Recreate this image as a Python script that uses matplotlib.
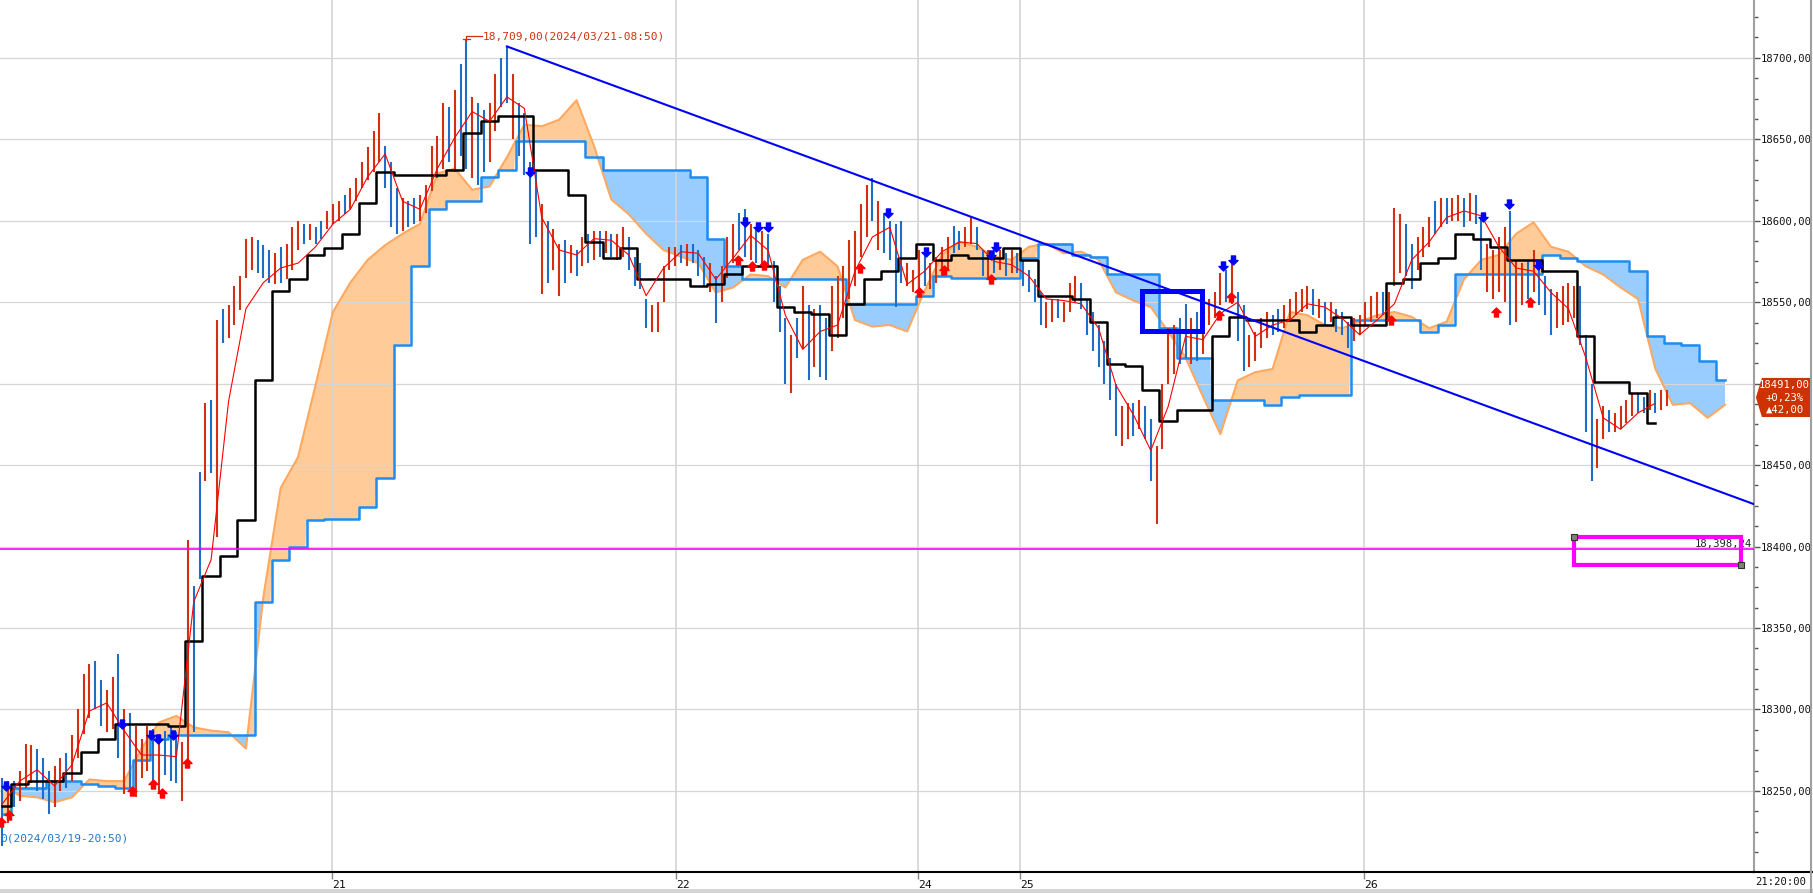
import numpy as np
import matplotlib
matplotlib.use("Agg")
import matplotlib.pyplot as plt
import matplotlib.transforms as mtransforms
from matplotlib import font_manager
from matplotlib.lines import Line2D
from matplotlib.patches import Polygon, Rectangle
from matplotlib.path import Path
from matplotlib.ticker import MultipleLocator

# 10-minute bars, x = bar index
bar_low = [
    18216, 18230, 18240, 18244, 18252, 18255, 18250, 18245, 18236, 18240,
    18250, 18252, 18256, 18270, 18285, 18295, 18300, 18290, 18286, 18288,
    18270, 18248, 18252, 18246, 18258, 18262, 18252, 18248, 18260, 18256,
    18255, 18244, 18269, 18286, 18380, 18440, 18445, 18406, 18525, 18528,
    18536, 18545, 18565, 18570, 18568, 18565, 18562, 18561, 18562, 18564,
    18570, 18582, 18586, 18588, 18586, 18589, 18595, 18598, 18600, 18604,
    18607, 18612, 18620, 18625, 18630, 18636, 18620, 18596, 18592, 18594,
    18596, 18598, 18600, 18605, 18618, 18626, 18632, 18636, 18630, 18640,
    18632, 18626, 18622, 18630, 18636, 18655, 18670, 18672, 18650, 18640,
    18628, 18586, 18590, 18555, 18562, 18570, 18554, 18562, 18568, 18566,
    18572, 18574, 18576, 18578, 18580, 18578, 18576, 18578, 18570, 18560,
    18558, 18534, 18532, 18532, 18550, 18570, 18572, 18574, 18572, 18574,
    18566, 18560, 18556, 18537, 18550, 18565, 18574, 18582, 18578, 18576,
    18574, 18572, 18572, 18550, 18532, 18500, 18494, 18516, 18522, 18502,
    18510, 18504, 18502, 18520, 18528, 18540, 18552, 18560, 18578, 18590,
    18600, 18582, 18580, 18576, 18547, 18562, 18560, 18556, 18558, 18560,
    18558, 18562, 18566, 18570, 18580, 18582, 18584, 18586, 18582, 18566,
    18564, 18568, 18570, 18566, 18568, 18568, 18560, 18556, 18550, 18536,
    18534, 18538, 18540, 18538, 18544, 18550, 18546, 18530, 18520, 18510,
    18500, 18490, 18468, 18462, 18466, 18468, 18472, 18466, 18440, 18414,
    18460, 18500, 18506, 18512, 18516, 18512, 18514, 18518, 18536, 18540,
    18548, 18550, 18549, 18526, 18508, 18510, 18514, 18522, 18528, 18530,
    18532, 18534, 18538, 18542, 18544, 18546, 18542, 18540, 18536, 18538,
    18532, 18530, 18522, 18526, 18530, 18536, 18538, 18540, 18542, 18540,
    18560, 18568, 18566, 18558, 18570, 18578, 18584, 18592, 18596, 18598,
    18600, 18600, 18596, 18600, 18598, 18570, 18556, 18552, 18556, 18550,
    18536, 18538, 18548, 18552, 18556, 18548, 18542, 18530, 18534, 18536,
    18538, 18540, 18524, 18470, 18440, 18448, 18466, 18470, 18470, 18472,
    18476, 18480, 18482, 18482, 18484, 18482, 18484, 18486,
]
bar_high = [
    18258, 18256, 18256, 18262, 18279, 18278, 18276, 18270, 18262, 18265,
    18270, 18273, 18284, 18300, 18322, 18328, 18330, 18318, 18312, 18320,
    18334, 18300, 18298, 18290, 18282, 18290, 18288, 18285, 18287, 18290,
    18286, 18280, 18404, 18376, 18446, 18488, 18490, 18539, 18546, 18548,
    18560, 18566, 18589, 18590, 18588, 18585, 18582, 18580, 18584, 18586,
    18596, 18600, 18598, 18598, 18596, 18600, 18606, 18610, 18612, 18616,
    18620, 18626, 18636, 18645, 18655, 18666, 18646, 18636, 18620, 18614,
    18612, 18614, 18616, 18622, 18646, 18652, 18672, 18670, 18680, 18696,
    18711, 18676, 18672, 18668, 18672, 18690, 18700, 18707, 18690, 18672,
    18666, 18636, 18630, 18610, 18600, 18595, 18586, 18588, 18585, 18582,
    18590, 18592, 18594, 18594, 18594, 18592, 18592, 18596, 18590, 18578,
    18574, 18552, 18548, 18550, 18572, 18584, 18584, 18585, 18586, 18586,
    18582, 18578, 18574, 18566, 18572, 18590, 18598, 18605, 18607, 18598,
    18596, 18594, 18592, 18575, 18560, 18540, 18530, 18540, 18560, 18548,
    18546, 18548, 18540, 18560, 18566, 18572, 18588, 18594, 18610, 18622,
    18626, 18612, 18604, 18600, 18598, 18600, 18574, 18570, 18582, 18580,
    18574, 18578, 18584, 18590, 18597, 18594, 18596, 18602, 18596, 18582,
    18582, 18584, 18582, 18580, 18582, 18580, 18576, 18570, 18564, 18556,
    18550, 18552, 18552, 18550, 18562, 18566, 18562, 18552, 18544, 18536,
    18526, 18516, 18500, 18486, 18488, 18488, 18490, 18486, 18478, 18462,
    18500, 18534, 18536, 18540, 18549, 18540, 18544, 18538, 18552, 18556,
    18568, 18570, 18574, 18556, 18548, 18530, 18532, 18540, 18544, 18542,
    18546, 18548, 18552, 18556, 18558, 18560, 18558, 18552, 18550, 18550,
    18546, 18544, 18538, 18540, 18542, 18550, 18554, 18556, 18556, 18556,
    18608, 18604, 18598, 18586, 18590, 18596, 18602, 18612, 18614, 18614,
    18614, 18616, 18614, 18617, 18616, 18602, 18586, 18582, 18590, 18596,
    18606, 18576, 18574, 18576, 18582, 18572, 18566, 18558, 18556, 18560,
    18562, 18560, 18560, 18530, 18500, 18478, 18486, 18484, 18482, 18486,
    18490, 18494, 18494, 18492, 18496, 18494, 18496, 18496,
]
# u = up bar (red), d = down bar (blue)
bar_dir = (
    "duduuudddu" "uduuuudduu" "duduuududd" "duuddududu" "uuuudddudu"
    "uududduuud" "uuuuuudddu" "dduuuuudud" "dudduuddud" "ddduduudud"
    "udududuudd" "dduuuuudud" "dduduuuddu" "duddddudud" "udduuuuuuu"
    "dudddduuud" "uuuudduudd" "udududdddd" "uuduuudddd" "ddduududdu"
    "uuudduduuu" "ududduuuud" "duuuuududu" "ddduuuuudu" "uudduuudud"
    "uududduuuu" "duududdduu" "uuddduuduu" "uudduduu"
)

# ichimoku lines, sampled every 3 bars
line_x = list(range(0, 298, 3))
tenkan = [
    18242, 18256, 18263, 18253, 18266, 18299, 18304, 18287, 18272, 18272,
    18271, 18366, 18392, 18489, 18546, 18562, 18571, 18574, 18584, 18598,
    18607, 18627, 18641, 18612, 18607, 18632, 18651, 18667, 18661, 18676,
    18669, 18602, 18582, 18579, 18589, 18588, 18579, 18554, 18571, 18581,
    18580, 18564, 18577, 18591, 18582, 18542, 18521, 18532, 18536, 18569,
    18590, 18596, 18561, 18569, 18581, 18587, 18586, 18575, 18573, 18566,
    18552, 18551, 18549, 18534, 18499, 18481, 18459, 18486, 18529, 18527,
    18543, 18550, 18529, 18536, 18539, 18549, 18547, 18540, 18530, 18539,
    18549, 18576, 18587, 18602, 18606, 18603, 18584, 18571, 18569, 18556,
    18546, 18516, 18479, 18472, 18482, 18488,
]
kijun = [
    18241, 18254, 18256, 18256, 18261, 18274, 18282, 18291, 18291, 18291,
    18290, 18342, 18382, 18394, 18416, 18502, 18557, 18564, 18579, 18583,
    18592, 18611, 18630, 18628, 18628, 18628, 18631, 18654, 18661, 18664,
    18664, 18631, 18631, 18616, 18587, 18577, 18583, 18564, 18564, 18564,
    18560, 18561, 18567, 18572, 18572, 18547, 18544, 18543, 18530, 18549,
    18564, 18569, 18577, 18586, 18576, 18579, 18577, 18577, 18583, 18576,
    18554, 18554, 18552, 18538, 18512, 18511, 18496, 18477, 18484, 18484,
    18529, 18541, 18539, 18539, 18539, 18532, 18536, 18541, 18536, 18536,
    18562, 18564, 18574, 18577, 18592, 18589, 18584, 18576, 18576, 18569,
    18569, 18529, 18501, 18501, 18494, 18476,
]
span_a = [
    18254, 18247, 18246, 18243, 18246, 18257, 18256, 18256, 18276, 18292,
    18296, 18289, 18287, 18286, 18276, 18369, 18436, 18455, 18499, 18544,
    18562, 18576, 18585, 18592, 18598, 18629, 18632, 18619, 18621, 18639,
    18659, 18658, 18662, 18674, 18646, 18613, 18604, 18592, 18582, 18578,
    18574, 18556, 18559, 18567, 18566, 18559, 18576, 18581, 18572, 18539,
    18535, 18536, 18532, 18557, 18579, 18587, 18584, 18578, 18576, 18584,
    18586, 18580, 18581, 18576, 18556, 18551, 18547, 18532, 18516, 18492,
    18469, 18502, 18507, 18509, 18544, 18542, 18536, 18534, 18538, 18542,
    18544, 18541, 18534, 18538, 18564, 18576, 18579, 18592, 18599, 18584,
    18581, 18572, 18567, 18559, 18552, 18509, 18487, 18488, 18479, 18487,
]
span_b = [
    18236, 18252, 18252, 18256, 18256, 18254, 18253, 18252, 18269, 18282,
    18284, 18284, 18284, 18284, 18284, 18366, 18392, 18400, 18416, 18417,
    18417, 18424, 18442, 18524, 18572, 18607, 18612, 18612, 18627, 18631,
    18649, 18649, 18649, 18649, 18639, 18631, 18631, 18631, 18631, 18631,
    18627, 18589, 18572, 18564, 18564, 18564, 18564, 18564, 18564, 18549,
    18549, 18549, 18549, 18554, 18566, 18565, 18565, 18565, 18565, 18577,
    18586, 18586, 18579, 18578, 18567, 18567, 18567, 18534, 18516, 18516,
    18490, 18490, 18490, 18487, 18492, 18493, 18493, 18493, 18539, 18539,
    18539, 18539, 18532, 18536, 18567, 18567, 18567, 18567, 18567, 18579,
    18577, 18575, 18575, 18575, 18569, 18529, 18525, 18524, 18514, 18502,
]

# signal arrows
sell_x = [0.6, 20.6, 25.6, 26.8, 29.5, 91.0, 128.0, 130.3, 132.0, 152.7,
          159.3, 170.5, 171.4, 210.5, 212.2, 255.3, 259.7, 264.8]
sell_y = [18253, 18291, 18284, 18282, 18284, 18630, 18599, 18596, 18596, 18605,
          18581, 18579, 18584, 18572, 18576, 18602, 18610, 18573]
buy_x = [-0.2, 1.2, 22.3, 26.0, 27.5, 31.8, 126.8, 129.3, 131.4, 147.8,
         158.1, 162.3, 170.5, 209.7, 211.9, 239.4, 257.5, 263.4]
buy_y = [18231, 18235, 18250, 18254, 18249, 18267, 18576, 18572, 18573, 18571,
         18556, 18570, 18564, 18542, 18553, 18539, 18544, 18550]

# drawings
trend_x = [87, 302]
trend_y = [18707, 18426]
support_level = 18398.24
last_price = 18491
max_bar, max_price = 80, 18709
min_label = "0(2024/03/19-20:50)"   # only the tail is visible at the left edge
max_label = "18,709,00(2024/03/21-08:50)"

day_pos = [56.9, 116.2, 157.9, 175.5, 234.8]
day_labels = ["21", "22", "24", "25", "26"]
price_ticks = list(range(18250, 18701, 50))

RED = "#D4300F"
BLUE = "#1E6EC8"

names = {f.name for f in font_manager.fontManager.ttflist}
NARROW = "Liberation Sans Narrow" if "Liberation Sans Narrow" in names else "DejaVu Sans Mono"
FS = 9 if NARROW == "Liberation Sans Narrow" else 7.6
plt.rcParams["font.family"] = [NARROW, "DejaVu Sans"]

W, H = 1813, 893
fig = plt.figure(figsize=(W / 100, H / 100), dpi=100)
ax = fig.add_axes([0, 21 / H, 1754 / W, 872 / H])

# cloud: span A drawn as a line, span B as a step line; fill on a fine grid
lx = np.array(line_x)
a = np.array(span_a)
b = np.array(span_b)
xf = np.arange(lx[0], lx[-1] + 0.01, 0.25)
af = np.interp(xf, lx, a)
bf = b[np.clip(np.round(xf / 3).astype(int), 0, len(b) - 1)]
ax.fill_between(xf, af, bf, where=af >= bf, interpolate=True, color="#FFCC99", lw=0, zorder=1)
ax.fill_between(xf, af, bf, where=af <= bf, interpolate=True, color="#99CCFF", lw=0, zorder=1)

# grid over the cloud
for p in price_ticks:
    ax.axhline(p, color="#D6D6D6", lw=0.9, zorder=1.5)
for d in day_pos:
    ax.axvline(d, color="#D4D4D4", lw=1.2, zorder=1.5)

ax.plot(lx, a, color="#FFA860", lw=1.5, zorder=2)
ax.plot(lx, b, color="#1E8CF0", lw=1.8, drawstyle="steps-mid", zorder=2)

# bars
x = np.arange(len(bar_low))
lo = np.array(bar_low)
hi = np.array(bar_high)
up = np.array([c == "u" for c in bar_dir])
ax.vlines(x[up], lo[up], hi[up], color=RED, lw=1.5, zorder=3)
ax.vlines(x[~up], lo[~up], hi[~up], color=BLUE, lw=1.5, zorder=3)

ax.plot(lx[:len(kijun)], kijun, color="black", lw=1.8, drawstyle="steps-mid", zorder=4)
ax.plot(lx[:len(tenkan)], tenkan, color="#FF0000", lw=0.8, zorder=5)

# signal arrows
up_arrow = Path([(0, 1), (1, 0), (0.45, 0), (0.45, -1), (-0.45, -1), (-0.45, 0), (-1, 0), (0, 1)],
                [Path.MOVETO] + [Path.LINETO] * 6 + [Path.CLOSEPOLY])
down_arrow = Path([(vx, -vy) for vx, vy in up_arrow.vertices], up_arrow.codes)
ax.plot(sell_x, sell_y, ls="none", marker=down_arrow, ms=6.5, color="#0000FF", zorder=6)
ax.plot(buy_x, buy_y, ls="none", marker=up_arrow, ms=6.5, color="#FF0000", zorder=6)

# support line + box
ax.axhline(support_level, color="#FF00FF", lw=1.2, zorder=4)
ax.text(301.7, support_level + 0.4, "18,398,24", ha="right", va="bottom",
        fontsize=FS, color="#222222", zorder=6)
ax.add_patch(Rectangle((271.0, 18388.6), 28.7, 17.2, fill=False, ec="#FF00FF", lw=3, zorder=7))
ax.plot([271.0, 299.7], [18405.8, 18388.6], ls="none", marker="s", ms=4,
        mfc="#808080", mec="#303030", mew=0.8, zorder=8)

# trendline + highlight box
ax.plot(trend_x, trend_y, color="#0000FF", lw=1.5, zorder=6)
ax.add_patch(Rectangle((196.5, 18532.3), 10.3, 24.5, fill=False, ec="#0000FF", lw=3.6, zorder=7))

# max / min labels
ax.plot([max_bar, max_bar, max_bar + 2.7], [max_price + 1.5, 18713.4, 18713.4], color="#D03010", lw=0.9, zorder=6)
ax.plot([max_bar - 0.6, max_bar + 0.6], [max_price + 2.5, max_price + 2.5], color="#D03010", lw=0.9, zorder=6)
ax.text(max_bar + 2.8, 18713.4, max_label, ha="left", va="center", fontsize=FS + 0.4, color="#D03010", zorder=6)
ax.text(-0.35, 18220.5, min_label, ha="left", va="center", fontsize=FS + 0.4, color="#1E78D2", zorder=6)

ax.set_xlim(-0.4, 302.0)
ax.set_ylim(18200.2, 18735.5)

ax.yaxis.tick_right()
ax.set_yticks(price_ticks)
ax.set_yticklabels([f"{p},00" for p in price_ticks])
ax.yaxis.set_minor_locator(MultipleLocator(12.5))
ax.tick_params(axis="y", which="major", direction="out", length=4, width=1, color="#555555",
               pad=1, labelsize=FS, labelcolor="#111111")
ax.tick_params(axis="y", which="minor", direction="out", length=3, width=1, color="#555555")
ax.set_xticks(day_pos)
ax.set_xticklabels(day_labels)
ax.tick_params(axis="x", direction="out", length=5, width=1, color="#888888", pad=1,
               labelsize=FS + 0.6, labelcolor="#111111")
for lab in ax.get_xticklabels():
    lab.set_horizontalalignment("left")

for s in ("top", "left"):
    ax.spines[s].set_visible(False)
ax.spines["right"].set_color("#A0A0A0")
ax.spines["right"].set_linewidth(1.5)
ax.spines["bottom"].set_color("black")
ax.spines["bottom"].set_linewidth(1.5)

# last price tag on the axis
blend = mtransforms.blended_transform_factory(ax.transAxes, ax.transData)
tag = Polygon([(1.0011, 18491.5), (1.0045, 18503.5), (1.032, 18503.5), (1.032, 18479.5), (1.0045, 18479.5)],
              closed=True, fc="#CC3300", ec="none", transform=blend, clip_on=False, zorder=10)
ax.add_patch(tag)
for txt, yy in zip([f"{last_price},00", "+0,23%", "\u25b242,00"], [18499.2, 18491.0, 18483.8]):
    ax.text(1.0175, yy, txt, ha="center", va="center", fontsize=FS, color="white",
            transform=blend, clip_on=False, zorder=11)

# frame pieces outside the axes
fig.add_artist(Line2D([1754 / W, 1], [21 / H, 21 / H], color="black", lw=1.5, transform=fig.transFigure))
fig.add_artist(Line2D([1811 / W, 1811 / W], [0, 1], color="#A0A0A0", lw=1.5, transform=fig.transFigure))
fig.add_artist(Rectangle((0, 0), 1, 4 / H, transform=fig.transFigure, color="#D4D4D4", lw=0))
fig.text(1806 / W, 11 / H, "21:20:00", ha="right", va="center", fontsize=FS, color="#111111")

fig.savefig("out.png", dpi=100)
